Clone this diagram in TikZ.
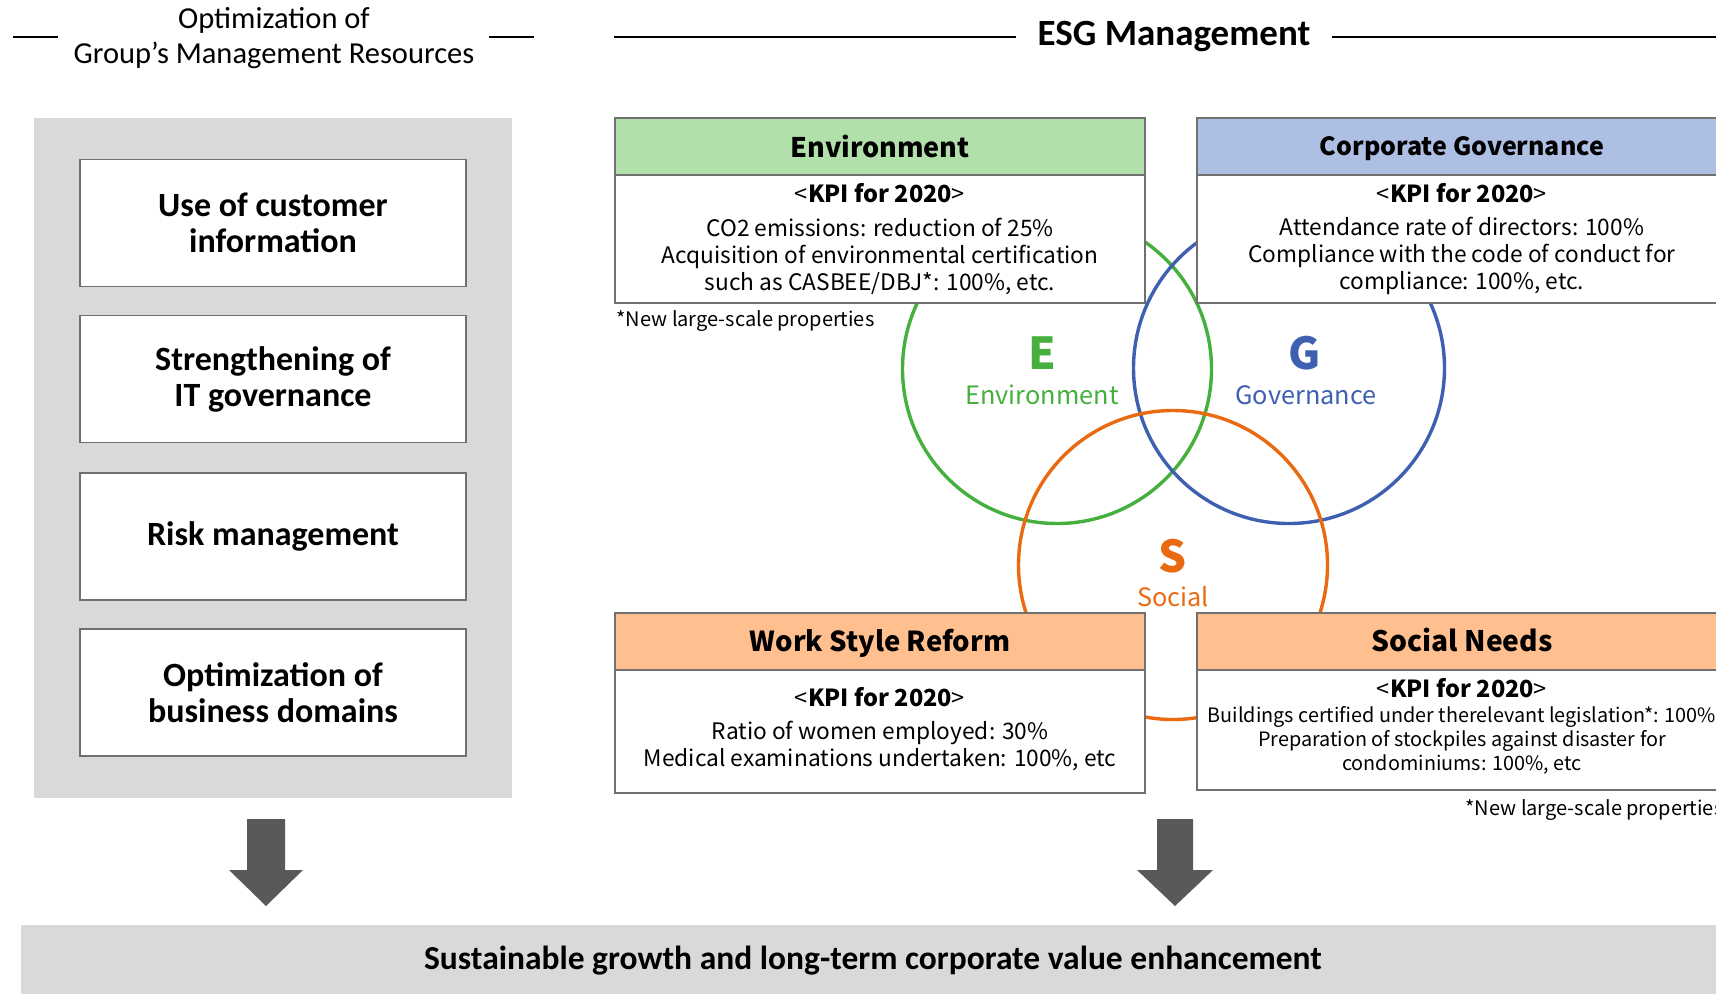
\documentclass[tikz,border=0pt]{standalone}
\usepackage{fontspec}
\setmainfont{Carlito}
\newfontfamily\ygf{Noto Sans CJK JP}
\usetikzlibrary{positioning}

\definecolor{panelgray}{HTML}{D9D9D9}
\definecolor{arrowgray}{HTML}{595959}
\definecolor{edgegray}{HTML}{707070}
\definecolor{envfill}{HTML}{B2E0AB}
\definecolor{govfill}{HTML}{ADBFE3}
\definecolor{socfill}{HTML}{FFBF8F}
\definecolor{envline}{HTML}{45B03D}
\definecolor{govline}{HTML}{3F5FB0}
\definecolor{socline}{HTML}{E96A10}

\tikzset{
  titlerule/.style={line width=2.5pt},
  sidebox/.style={draw=edgegray, fill=white, line width=1.4pt, minimum width=386pt, minimum height=127pt,
    font=\fontsize{34}{36}\selectfont\bfseries, align=center},
  kpihead/.style={draw=edgegray, line width=1.4pt, minimum width=530pt, minimum height=57pt,
    font=\ygf\fontsize{27}{30}\selectfont\bfseries},
  kpibody/.style={draw=edgegray, fill=white, line width=1.4pt, minimum width=530pt},
  kpititle/.style={font=\ygf\fontsize{23.5}{26}\selectfont},
  kpitext/.style={font=\ygf\fontsize{22.7}{27}\selectfont, align=center},
  note/.style={font=\ygf\fontsize{20}{22}\selectfont},
  ring/.style={line width=3.4pt},
  bigletter/.style={font=\ygf\fontsize{44}{44}\selectfont\bfseries},
  ringlabel/.style={font=\ygf\fontsize{25.3}{28}\selectfont},
  blockarrow/.style={fill=arrowgray}
}

\begin{document}
\begin{tikzpicture}[x=1pt,y=-1pt]
\useasboundingbox (0,0) rectangle (1716,994);
\clip (0,0) rectangle (1716,994);

% ---------- left column heading ----------
\node[font=\fontsize{30.5}{35}\selectfont, align=center] (leftttl) at (274,38)
  {Optimization of\\Group’s Management Resources};
\coordinate (ll1) at (13,37); \coordinate (ll2) at (58,37);
\coordinate (lr1) at (489,37); \coordinate (lr2) at (534,37);
\draw[titlerule] (ll1) -- (ll2);
\draw[titlerule] (lr1) -- (lr2);

% ---------- right column heading ----------
\node[font=\fontsize{37}{40}\selectfont\bfseries] (esgttl) at (1174,36) {ESG Management};
\coordinate (rl1) at (614,37); \coordinate (rl2) at (1016,37);
\coordinate (rr1) at (1332,37); \coordinate (rr2) at (1716,37);
\draw[titlerule] (rl1) -- (rl2);
\draw[titlerule] (rr1) -- (rr2);

% ---------- left panel ----------
\fill[panelgray] (34,118) rectangle (512,798);
\node[sidebox] (b1) at (273,223) {Use of customer\\information};
\node[sidebox] (b2) at (273,379) {Strengthening of\\IT governance};
\node[sidebox] (b3) at (273,536.5) {Risk management};
\node[sidebox] (b4) at (273,692.5) {Optimization of\\business domains};

% ---------- ESG circles ----------
\draw[ring, envline] (1057,369) circle (154.5);
\draw[ring, govline] (1289,368) circle (155.5);
\draw[ring, socline] (1173,565) circle (154.5);

% ---------- Environment ----------
\node[kpibody, minimum height=128pt] (envb) at (880,239) {};
\node[kpihead, fill=envfill] (envh) at (880,146.5) {Environment};
\node[kpititle] (envk) at (880,193) {<\textbf{KPI for 2020}>};
\node[kpitext] (envt) at (880,256)
  {CO2 emissions: reduction of 25\%\\Acquisition of environmental certification\\such as CASBEE/DBJ*: 100\%, etc.};
\node[note, anchor=west] (envn) at (613,321) {*New large-scale properties};

% ---------- Corporate Governance ----------
\node[kpibody, minimum height=128pt] (govb) at (1462,239) {};
\node[kpihead, fill=govfill, font=\ygf\fontsize{25}{30}\selectfont\bfseries] (govh) at (1462,146.5) {};
\node[font=\ygf\fontsize{25}{30}\selectfont\bfseries] (govht) at (1462,148.5) {Corporate Governance};
\node[kpititle] (govk) at (1462,193) {<\textbf{KPI for 2020}>};
\node[kpitext] (govt) at (1462,256)
  {Attendance rate of directors: 100\%\\Compliance with the code of conduct for\\compliance: 100\%, etc.};

% ---------- Work Style Reform ----------
\node[kpibody, minimum height=123pt] (wsrb) at (880,731.5) {};
\node[kpihead, fill=socfill] (wsrh) at (880,641.5) {};
\node[font=\ygf\fontsize{27.5}{30}\selectfont\bfseries] (wsrht) at (880,643.5) {Work Style Reform};
\node[kpititle] (wsrk) at (880,697) {<\textbf{KPI for 2020}>};
\node[kpitext] (wsrt) at (880,746)
  {Ratio of women employed: 30\%\\Medical examinations undertaken: 100\%, etc};

% ---------- Social Needs ----------
\node[kpibody, minimum height=120pt] (snb) at (1462,730) {};
\node[kpihead, fill=socfill] (snh) at (1462,641.5) {};
\node[font=\ygf\fontsize{28.2}{30}\selectfont\bfseries] (snht) at (1462,639.5) {Social Needs};
\node[kpititle] (snk) at (1462,688) {<\textbf{KPI for 2020}>};
\node[kpitext, font=\ygf\fontsize{19.8}{24}\selectfont] (snt) at (1462,740)
  {Buildings certified under therelevant legislation*: 100\%\\Preparation of stockpiles against disaster for\\condominiums: 100\%, etc};
\node[note, anchor=west] (snn) at (1462,810) {*New large-scale properties};

% ---------- circle letters ----------
\node[bigletter, text=envline] (eL) at (1042,353) {E};
\node[ringlabel, text=envline] (eW) at (1042,395) {Environment};
\node[bigletter, text=govline] (gL) at (1305,353) {G};
\node[ringlabel, text=govline] (gW) at (1306,395) {Governance};
\node[bigletter, text=socline] (sL) at (1173,556) {S};
\node[ringlabel, text=socline] (sW) at (1173,597) {Social};

% ---------- result band ----------
\fill[panelgray] (21,925) rectangle (1716,994);
\node[font=\fontsize{33.5}{36}\selectfont\bfseries] (goal) at (873,961)
  {Sustainable growth and long-term corporate value enhancement};

% ---------- block arrows ----------
\coordinate (la) at (266,819);
\coordinate (ra) at (1175,819);
\fill[blockarrow] (la) ++(-19,0) -- ++(38,0) -- ++(0,51) -- ++(18,0) -- (266,906) -- (229,870) -- (247,870) -- cycle;
\fill[blockarrow] (ra) ++(-18,0) -- ++(36,0) -- ++(0,51) -- ++(20,0) -- (1175,906) -- (1137,870) -- (1157,870) -- cycle;
\end{tikzpicture}
\end{document}
